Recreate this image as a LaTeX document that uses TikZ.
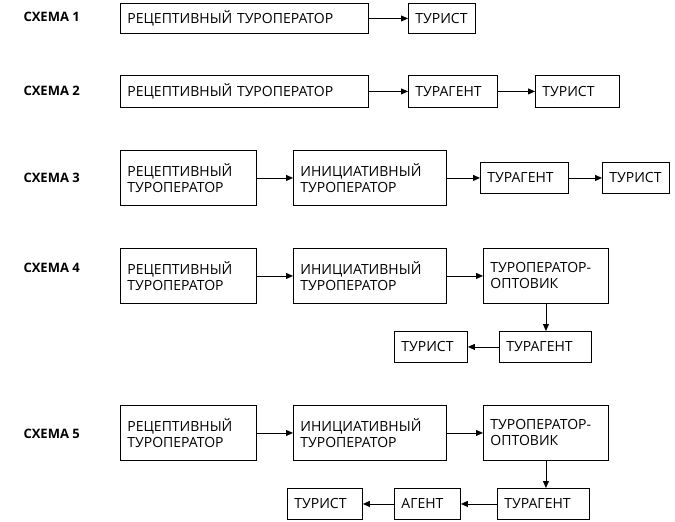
\documentclass[tikz,border=0pt]{standalone}
\usepackage{fontspec}
\setmainfont{Open Sans}
\usetikzlibrary{arrows.meta}
\begin{document}
\begin{tikzpicture}[x=1pt,y=-1pt,
  box/.style={draw,line width=0.9pt,anchor=north west,inner xsep=7pt,inner ysep=0pt,align=left,font=\fontsize{14}{16}\selectfont},
  lab/.style={font=\bfseries\fontsize{13}{15}\selectfont,anchor=west},
  arr/.style={-{Triangle[length=7pt,width=6pt]},line width=0.9pt}]
\useasboundingbox (0,0) rectangle (675,522);
\newcommand{\bx}[6]{\node[box,text width=#4-14,minimum height=#5] (#1) at (#2,#3) {#6};}
% row 1
\node[lab] (l1) at (20,17) {СХЕМА 1};
\bx{a1}{120}{3}{248}{30}{РЕЦЕПТИВНЫЙ ТУРОПЕРАТОР}
\bx{b1}{408}{3}{67}{30}{ТУРИСТ}
\draw[arr] (a1) -- (b1);
% row 2
\node[lab] (l2) at (20,91) {СХЕМА 2};
\bx{a2}{120}{75}{248}{32}{РЕЦЕПТИВНЫЙ ТУРОПЕРАТОР}
\bx{b2}{408}{75}{89}{32}{ТУРАГЕНТ}
\bx{c2}{535}{75}{84}{32}{ТУРИСТ}
\draw[arr] (a2) -- (b2); \draw[arr] (b2) -- (c2);
% row 3
\node[lab] (l3) at (20,178) {СХЕМА 3};
\bx{a3}{120}{150}{136}{55}{РЕЦЕПТИВНЫЙ\\ТУРОПЕРАТОР}
\bx{b3}{293}{150}{153}{55}{ИНИЦИАТИВНЫЙ\\ТУРОПЕРАТОР}
\bx{c3}{480}{162}{88}{31}{ТУРАГЕНТ}
\bx{d3}{602}{162}{67}{31}{ТУРИСТ}
\draw[arr] (a3) -- (b3); \draw[arr] (b3) -- (c3); \draw[arr] (c3) -- (d3);
% row 4
\node[lab] (l4) at (20,268) {СХЕМА 4};
\bx{a4}{120}{248}{136}{55}{РЕЦЕПТИВНЫЙ\\ТУРОПЕРАТОР}
\bx{b4}{293}{248}{153}{55}{ИНИЦИАТИВНЫЙ\\ТУРОПЕРАТОР}
\bx{c4}{483}{248}{125}{55}{ТУРОПЕРАТОР-\\ОПТОВИК}
\bx{d4}{499}{331}{92}{31}{ТУРАГЕНТ}
\bx{e4}{394}{331}{73}{31}{ТУРИСТ}
\draw[arr] (a4) -- (b4); \draw[arr] (b4) -- (c4);
\draw[arr] (c4.south) ++(0,0) coordinate (t4) -- (t4 |- d4.north);
\draw[arr] (d4) -- (e4);
% row 5
\node[lab] (l5) at (20,434) {СХЕМА 5};
\bx{a5}{120}{405}{136}{55}{РЕЦЕПТИВНЫЙ\\ТУРОПЕРАТОР}
\bx{b5}{293}{405}{153}{55}{ИНИЦИАТИВНЫЙ\\ТУРОПЕРАТОР}
\bx{c5}{483}{405}{125}{55}{ТУРОПЕРАТОР-\\ОПТОВИК}
\bx{d5}{497}{488}{92}{31}{ТУРАГЕНТ}
\bx{e5}{394}{488}{66}{31}{АГЕНТ}
\bx{f5}{287}{488}{75}{31}{ТУРИСТ}
\draw[arr] (a5) -- (b5); \draw[arr] (b5) -- (c5);
\draw[arr] (c5.south) coordinate (t5) -- (t5 |- d5.north);
\draw[arr] (d5) -- (e5); \draw[arr] (e5) -- (f5);
\end{tikzpicture}
\end{document}
